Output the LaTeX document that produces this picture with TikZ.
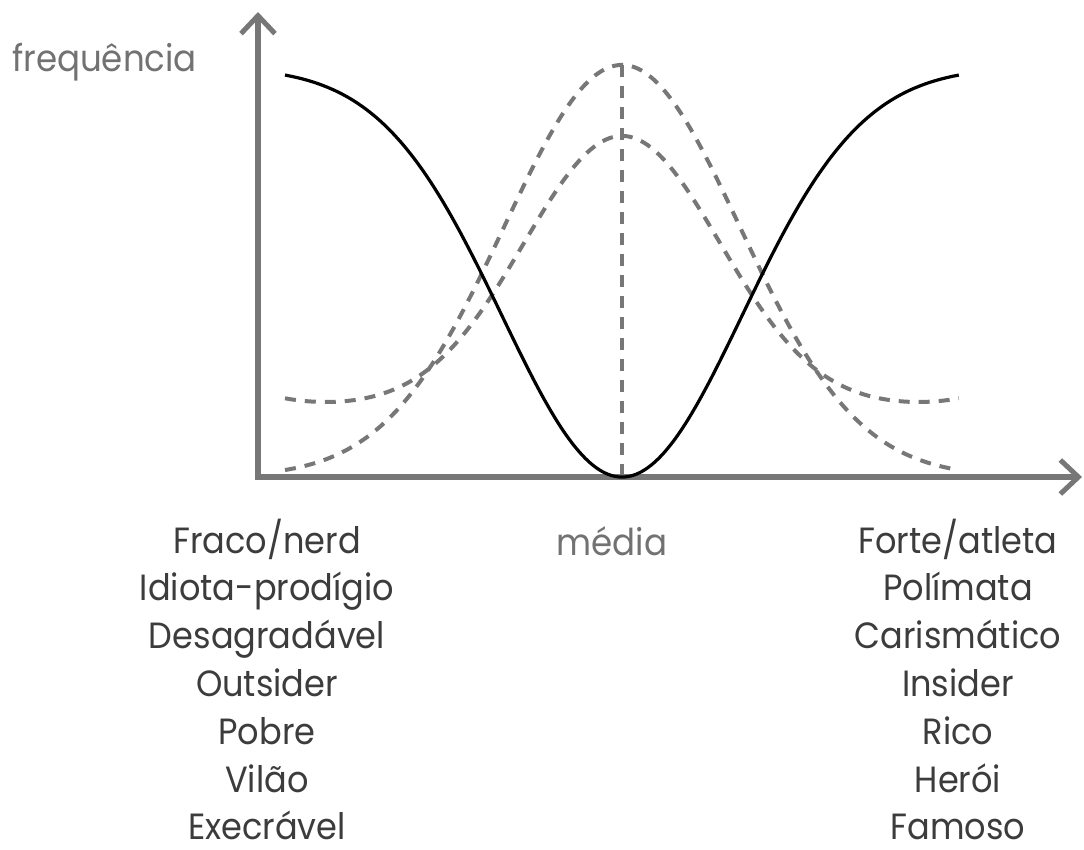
\documentclass[tikz,border=0pt]{standalone}
\usepackage{fontspec}
\setmainfont{Poppins}[FakeStretch=0.92]
\usetikzlibrary{arrows.meta}
\definecolor{axisgray}{HTML}{777777}
\definecolor{labelgray}{HTML}{3C3C3C}
\definecolor{lightlabel}{HTML}{727272}
\tikzset{
  axisline/.style={draw=axisgray, line width=6pt, -{Straight Barb[length=18pt,width=34pt,line width=5pt]}},
  solidcurve/.style={draw=black, line width=3.2pt},
  dashcurve/.style={draw=axisgray, line width=4pt, dash pattern=on 11pt off 9pt},
  lbl/.style={font=\fontsize{36.5}{36.5}\selectfont, text=labelgray, anchor=base, inner sep=0pt, text depth=0pt},
  lightlbl/.style={font=\fontsize{37}{37}\selectfont, text=lightlabel, inner sep=0pt}
}
\begin{document}
\begin{tikzpicture}[x=1pt,y=-1pt]
\useasboundingbox (0,0) rectangle (1084,850);
\coordinate (O) at (258,477);
\coordinate (ytip) at (258,12);
\coordinate (xtip) at (1082,477);
\coordinate (peak) at (622,65);
\coordinate (mid) at (622,477);
% axes
\draw[axisline] (O) -- (ytip);
\draw[axisline] ([xshift=-3pt]O) -- (xtip);
% tall dashed gaussian
\draw[dashcurve] plot[domain=-3.37:3.37, samples=120, smooth] ({622+100*\x}, {477-412*exp(-\x*\x/(2*1.18*1.18))});
% lower dashed gaussian
\draw[dashcurve] plot[domain=-3.37:3.37, samples=120, smooth] ({622+100*\x}, {477-69-272*exp(-\x*\x/(2*0.98*0.98))-9*(\x/3.37)^8});
% vertical dashed line
\draw[dashcurve, dash pattern=on 12pt off 9pt, line width=3.5pt] (peak) -- (mid);
% solid inverted gaussian
\draw[solidcurve] plot[domain=-3.37:3.37, samples=120, smooth] ({622+100*\x}, {477-402*(1-exp(-\x*\x/(2*1.2*1.2)))/(1-exp(-3.37*3.37/(2*1.2*1.2)))});
% labels
\node[lightlbl, anchor=base west] (freq) at (12,72) {frequência};
\node[lightlbl, anchor=base] (media) at (612,555) {média};
\foreach \t [count=\i from 0] in {Fraco/nerd,Idiota-prodígio,Desagradável,Outsider,Pobre,Vilão,Execrável}
  \node[lbl] (L\i) at (267,553+47.8*\i) {\t};
\foreach \t [count=\i from 0] in {Forte/atleta,Polímata,Carismático,Insider,Rico,Herói,Famoso}
  \node[lbl] (R\i) at (958,553+47.8*\i) {\t};
\end{tikzpicture}
\end{document}
